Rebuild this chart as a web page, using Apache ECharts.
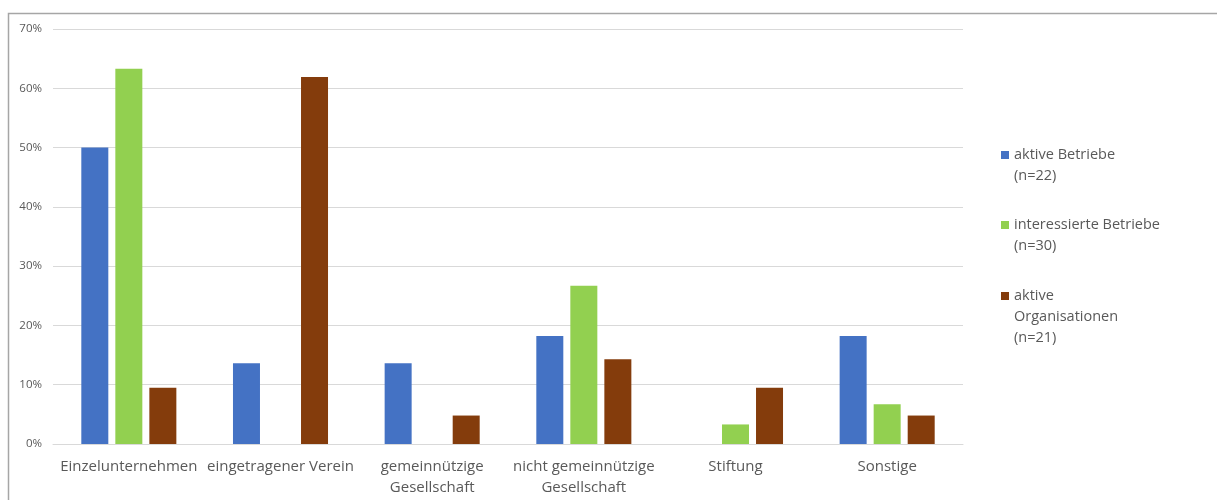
<!DOCTYPE html>
<html>
<head>
<meta charset="utf-8">
<script src="https://cdn.jsdelivr.net/npm/echarts@6/dist/echarts.min.js"></script>
<style>
html,body{margin:0;padding:0;background:#fff;}
#chart{width:1217px;height:500px;}
</style>
</head>
<body>
<div id="chart"></div>
<script>
const categories = ['Einzelunternehmen', 'eingetragener Verein', 'gemeinnützige\nGesellschaft', 'nicht gemeinnützige\nGesellschaft', 'Stiftung', 'Sonstige'];
const seriesNames = ['aktive Betriebe\n(n=22)', 'interessierte Betriebe\n(n=30)', 'aktive\nOrganisationen\n(n=21)'];
const aktiveBetriebe = [50.0, 13.6, 13.6, 18.2, 0, 18.2];
const interessierteBetriebe = [63.3, 0, 0, 26.7, 3.3, 6.7];
const aktiveOrganisationen = [9.5, 61.9, 4.8, 14.3, 9.5, 4.8];
const colors = ['#4472C4', '#92D050', '#843C0C'];

const chart = echarts.init(document.getElementById('chart'), null, {renderer: 'canvas'});
const font = '"Open Sans", "Noto Sans", sans-serif';
const LH = 21;
function legendFor(i, iconCenter) {
  const lines = seriesNames[i].split('\n').length;
  return {
    show: true,
    orient: 'vertical',
    left: 1001,
    top: iconCenter - (2 * lines - 1) * LH / 2,
    padding: 0,
    itemWidth: 8,
    itemHeight: 8,
    itemGap: 0,
    icon: 'rect',
    data: [seriesNames[i]],
    formatter: function (name) { return '\n'.repeat(lines - 1) + name; },
    textStyle: {
      fontFamily: font,
      fontSize: 14.5,
      color: '#595959',
      lineHeight: LH
    }
  };
}
const series = [aktiveBetriebe, interessierteBetriebe, aktiveOrganisationen].map((d, i) => ({
  name: seriesNames[i],
  type: 'bar',
  data: d,
  barWidth: 27,
  barGap: '26%',
  itemStyle: {color: colors[i]}
}));

chart.setOption({
  animation: false,
  textStyle: {fontFamily: font},
  graphic: [{
    type: 'rect',
    shape: {x: 8.5, y: 13.5, width: 1250, height: 600},
    style: {fill: 'none', stroke: '#a6a6a6', lineWidth: 1.5},
    silent: true
  }],
  legend: [legendFor(0, 155), legendFor(1, 225), legendFor(2, 296)],
  grid: {left: 53, right: 254, top: 29, bottom: 56},
  xAxis: {
    type: 'category',
    data: categories,
    axisLine: {show: true, lineStyle: {color: '#d9d9d9', width: 1}},
    axisTick: {show: false},
    axisLabel: {fontFamily: font, fontSize: 15, color: '#595959', margin: 12, lineHeight: 21, interval: 0}
  },
  yAxis: {
    type: 'value',
    min: 0,
    max: 70,
    interval: 10,
    axisLine: {show: false},
    axisTick: {show: false},
    splitLine: {lineStyle: {color: '#d9d9d9', width: 1}},
    axisLabel: {formatter: '{value}%', fontFamily: font, fontSize: 11.5, color: '#595959', margin: 11}
  },
  series: series
});
</script>
</body>
</html>
